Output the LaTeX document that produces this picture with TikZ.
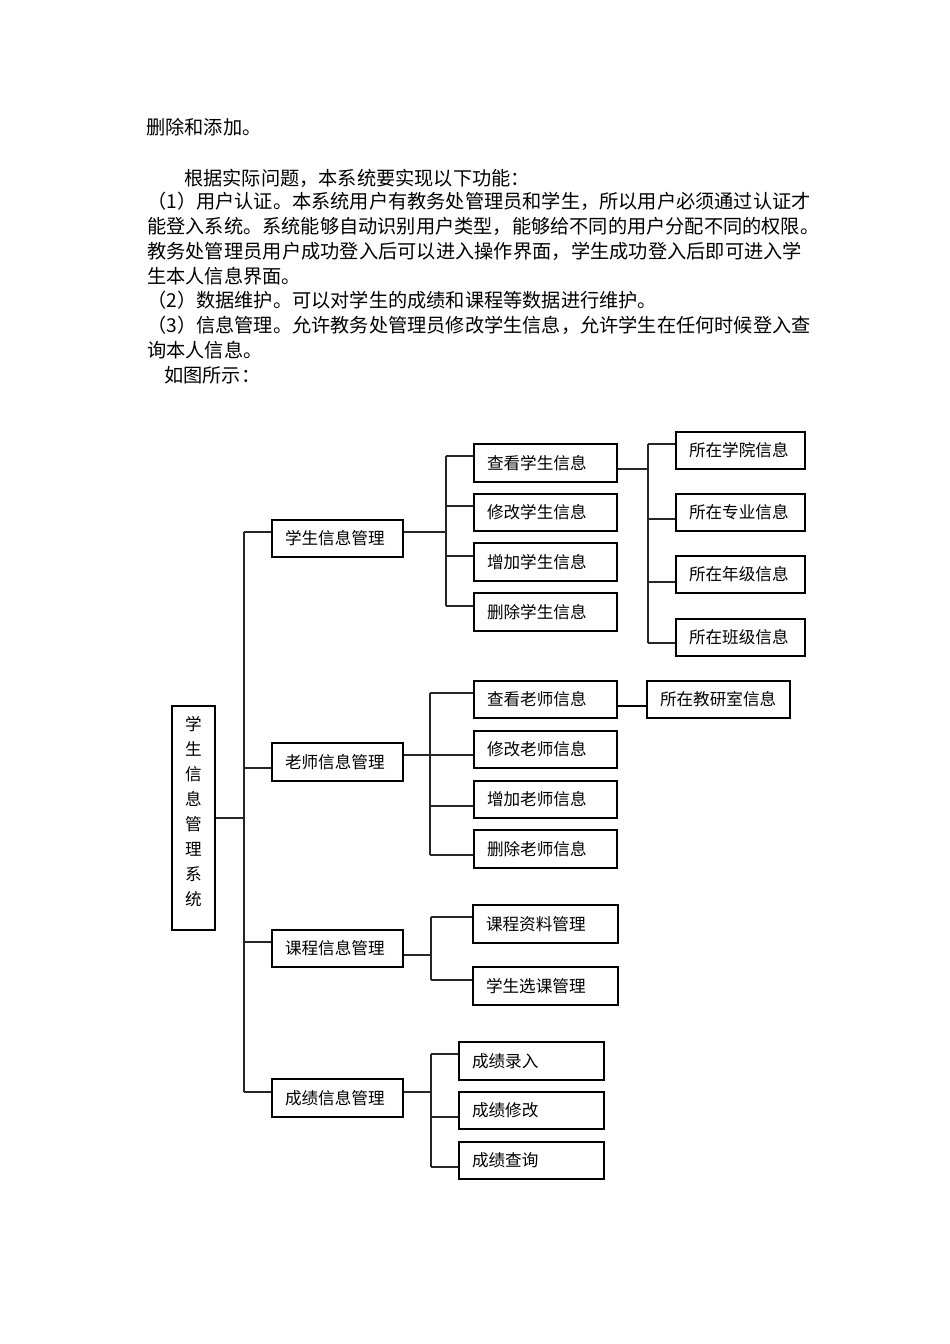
\documentclass[tikz,border=0pt]{standalone}
\usepackage{fontspec}
\setmainfont{Noto Sans CJK SC}
\def\jstep#1{\ifx#1\relax\else\hfil#1\expandafter\jstep\fi}
\def\jfirst#1{#1\jstep}
\def\jline#1{\hbox to 655pt{\jfirst#1\relax}}
\newcommand\bx[6]{%
  \pgfmathsetmacro\bw{#4-#2}\pgfmathsetmacro\bh{#5-#3}%
  \pgfmathsetmacro\tw{#4-#2-26}%
  \pgfmathsetmacro\bcx{(#2+#4)/2}\pgfmathsetmacro\bcy{(#3+#5)/2}%
  \node[box, minimum width=\bw pt, minimum height=\bh pt, text width=\tw pt] (#1) at (\bcx,\bcy) {#6};}
\tikzset{
  box/.style={draw=black, line width=1.4pt, inner xsep=13pt, inner ysep=0pt, align=left,
    font=\fontsize{16.6}{18}\selectfont},
  conn/.style={draw=black!85, line width=1.3pt},
  thickconn/.style={draw=black, line width=2.6pt},
  body/.style={anchor=west, inner sep=0pt, font=\fontsize{19.2}{22}\selectfont}
}
\begin{document}
\begin{tikzpicture}[x=1pt,y=-1pt]
\useasboundingbox (0,0) rectangle (950,1344);
% body text
\node[body] (t0) at (146,127) {删除和添加。};
\node[body] (t1) at (184,178) {根据实际问题，本系统要实现以下功能：};
\node[body] (t2) at (147,201) {\jline{（1）用户认证。本系统用户有教务处管理员和学生，所以用户必须通过认证才}};
\node[body] (t3) at (147,226) {\jline{能登入系统。系统能够自动识别用户类型，能够给不同的用户分配不同的权限。}};
\node[body] (t4) at (147,251) {\jline{教务处管理员用户成功登入后可以进入操作界面，学生成功登入后即可进入学}};
\node[body] (t5) at (147,276) {生本人信息界面。};
\node[body] (t6) at (147,300) {（2）数据维护。可以对学生的成绩和课程等数据进行维护。};
\node[body] (t7) at (147,325) {\jline{（3）信息管理。允许教务处管理员修改学生信息，允许学生在任何时候登入查}};
\node[body] (t8) at (147,350) {询本人信息。};
\node[body] (t9) at (164,375) {如图所示：};
% root
\node[draw=black, line width=1.4pt, minimum width=43pt, minimum height=224pt, inner sep=0pt,
  label={[align=center, font=\fontsize{16.6}{25}\selectfont, yshift=6pt]center:学\\生\\信\\息\\管\\理\\系\\统}]
  (root) at (193.5,818) {};
% level 1
\bx{la}{272}{520}{403}{557}{学生信息管理}
\bx{lb}{272}{743}{403}{781}{老师信息管理}
\bx{lc}{272}{930}{403}{967}{课程信息管理}
\bx{ld}{272}{1079}{403}{1117}{成绩信息管理}
% group A
\bx{a1}{474}{444}{617}{482}{查看学生信息}
\bx{a2}{474}{494}{617}{531}{修改学生信息}
\bx{a3}{474}{543}{617}{581}{增加学生信息}
\bx{a4}{474}{593}{617}{631}{删除学生信息}
\bx{z1}{676}{432}{805}{469}{所在学院信息}
\bx{z2}{676}{494}{805}{531}{所在专业信息}
\bx{z3}{676}{556}{805}{593}{所在年级信息}
\bx{z4}{676}{619}{805}{656}{所在班级信息}
% group B
\bx{b1}{474}{681}{617}{718}{查看老师信息}
\bx{b2}{474}{731}{617}{768}{修改老师信息}
\bx{b3}{474}{781}{617}{818}{增加老师信息}
\bx{b4}{474}{830}{617}{868}{删除老师信息}
\bx{jy}{647}{681}{790}{718}{所在教研室信息}
% group C
\bx{c1}{473}{905}{618}{943}{课程资料管理}
\bx{c2}{473}{967}{618}{1005}{学生选课管理}
% group D
\bx{d1}{459}{1042}{604}{1080}{成绩录入}
\bx{d2}{459}{1092}{604}{1129}{成绩修改}
\bx{d3}{459}{1142}{604}{1179}{成绩查询}
% spine
\coordinate (sp1) at (244,532);
\coordinate (sp2) at (244,768);
\coordinate (sp3) at (244,942);
\coordinate (sp4) at (244,1092);
\coordinate (spr) at (244,818);
\draw[conn] (sp1) -- (sp4);
\draw[conn] (root.east |- spr) -- (spr);
\draw[conn] (sp1) -- (sp1 -| la.west);
\draw[conn] (sp2) -- (sp2 -| lb.west);
\draw[conn] (sp3) -- (sp3 -| lc.west);
\draw[conn] (sp4) -- (sp4 -| ld.west);
% group A connectors
\coordinate (ja) at (446,532);
\coordinate (ja1) at (446,456);
\coordinate (ja2) at (446,506);
\coordinate (ja3) at (446,556);
\coordinate (ja4) at (446,606);
\draw[conn] (ja -| la.east) -- (ja);
\draw[conn] (ja1) -- (ja4);
\draw[conn, line width=2pt] (ja1) -- (ja1 -| a1.west);
\draw[conn] (ja2) -- (ja2 -| a2.west);
\draw[conn] (ja3) -- (ja3 -| a3.west);
\draw[conn] (ja4) -- (ja4 -| a4.west);
% group A2 connectors
\coordinate (jz) at (648,469);
\coordinate (jz1) at (648,444);
\coordinate (jz2) at (648,519);
\coordinate (jz3) at (648,582);
\coordinate (jz4) at (648,643);
\draw[conn, line width=2pt] (jz -| a1.east) -- (jz);
\draw[conn] (jz1) -- (jz4);
\draw[conn] (jz1) -- (jz1 -| z1.west);
\draw[conn] (jz2) -- (jz2 -| z2.west);
\draw[conn, line width=2pt] (jz3) -- (jz3 -| z3.west);
\draw[conn] (jz4) -- (jz4 -| z4.west);
% group B connectors
\coordinate (jb) at (430,755);
\coordinate (jb1) at (430,693);
\coordinate (jb2) at (430,755);
\coordinate (jb3) at (430,806);
\coordinate (jb4) at (430,855);
\draw[conn] (jb -| lb.east) -- (jb);
\draw[conn] (jb1) -- (jb4);
\draw[conn] (jb1) -- (jb1 -| b1.west);
\draw[conn] (jb2) -- (jb2 -| b2.west);
\draw[conn] (jb3) -- (jb3 -| b3.west);
\draw[conn] (jb4) -- (jb4 -| b4.west);
\coordinate (jj) at (632,706);
\draw[thickconn] (jj -| b1.east) -- (jj -| jy.west);
% group C connectors
\coordinate (jc) at (431,955);
\coordinate (jc1) at (431,917);
\coordinate (jc2) at (431,980);
\draw[conn] (jc -| lc.east) -- (jc);
\draw[conn] (jc1) -- (jc2);
\draw[conn] (jc1) -- (jc1 -| c1.west);
\draw[conn] (jc2) -- (jc2 -| c2.west);
% group D connectors
\coordinate (jd) at (431,1092);
\coordinate (jd1) at (431,1054);
\coordinate (jd2) at (431,1117);
\coordinate (jd3) at (431,1167);
\draw[conn] (jd -| ld.east) -- (jd);
\draw[conn] (jd1) -- (jd3);
\draw[conn] (jd1) -- (jd1 -| d1.west);
\draw[conn] (jd2) -- (jd2 -| d2.west);
\draw[conn] (jd3) -- (jd3 -| d3.west);
\end{tikzpicture}
\end{document}
